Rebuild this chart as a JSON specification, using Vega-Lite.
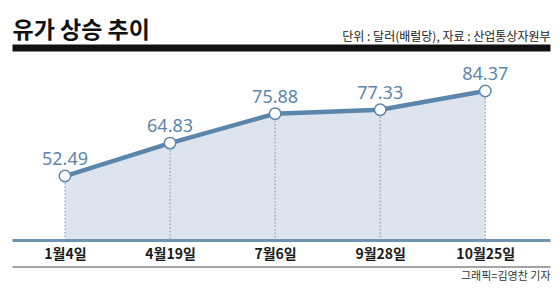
{
  "$schema": "https://vega.github.io/schema/vega-lite/v6.json",
  "width": 538,
  "height": 180,
  "autosize": {"type": "none"},
  "padding": {"left": 12, "top": 60, "right": 10, "bottom": 51},
  "background": "white",
  "config": {"view": {"stroke": null}},
  "data": {
    "values": [
      {"date": "1월4일", "price": 52.49, "label": "52.49"},
      {"date": "4월19일", "price": 64.83, "label": "64.83"},
      {"date": "7월6일", "price": 75.88, "label": "75.88"},
      {"date": "9월28일", "price": 77.33, "label": "77.33"},
      {"date": "10월25일", "price": 84.37, "label": "84.37"}
    ]
  },
  "encoding": {
    "y": {"field": "price", "type": "quantitative", "scale": {"domain": [28.5, 96], "zero": false, "nice": false}, "axis": null}
  },
  "resolve": {"axis": {"x": "independent"}},
  "layer": [
    {
      "mark": {"type": "area", "color": "#dee4ed", "opacity": 1},
      "encoding": {
        "x": {"field": "date", "type": "nominal", "sort": null, "scale": {"type": "point", "padding": 0.56, "align": 0.45},
          "axis": {"orient": "bottom", "title": null, "domainColor": "#6f93b3", "domainWidth": 3, "ticks": false, "labelAngle": 0, "zindex": 1,
            "labelFont": "Noto Sans CJK KR", "labelFontSize": 14, "labelFontWeight": "bold", "labelColor": "#1a1a1a", "labelPadding": 7, "grid": false}},
        "y2": {"datum": 28.5}
      }
    },
    {
      "mark": {"type": "rule", "color": "#8a8a8a", "strokeWidth": 1, "strokeDash": [1.5, 2]},
      "encoding": {
        "x": {"field": "date", "type": "nominal", "sort": null, "scale": {"type": "point", "padding": 0.56, "align": 0.45},
          "axis": {"orient": "bottom", "offset": 26.5, "title": "그래픽=김영찬 기자", "titleAnchor": "end", "titleFont": "Noto Sans CJK KR",
            "titleFontSize": 11, "titleFontWeight": "normal", "titleColor": "#333", "titlePadding": 4, "domainColor": "#858585", "domainWidth": 1.5,
            "ticks": false, "labels": false, "grid": false}},
        "y2": {"datum": 28.5}
      }
    },
    {
      "mark": {"type": "line", "color": "#5b86ac", "strokeWidth": 4.5},
      "encoding": {
        "x": {"field": "date", "type": "nominal", "sort": null, "scale": {"type": "point", "padding": 0.56, "align": 0.45},
          "axis": {"orient": "top", "offset": 12.5, "title": "유가 상승 추이", "titleAnchor": "start", "titleFont": "Noto Sans CJK KR",
            "titleFontSize": 23, "titleFontWeight": "bold", "titleColor": "#111", "titleBaseline": "alphabetic", "titlePadding": 10,
            "domainColor": "#111111", "domainWidth": 7, "ticks": false, "labels": false, "grid": false}}
      }
    },
    {
      "mark": {"type": "point", "filled": true, "fill": "white", "stroke": "#5b86ac", "strokeWidth": 1.5, "size": 130, "opacity": 1, "shape": "circle"},
      "encoding": {
        "x": {"field": "date", "type": "nominal", "sort": null, "scale": {"type": "point", "padding": 0.56, "align": 0.45},
          "axis": {"orient": "top", "offset": 12.5, "title": "단위 : 달러(배럴당), 자료 : 산업통상자원부", "titleAnchor": "end", "titleFont": "Noto Sans CJK KR",
            "titleFontSize": 12, "titleFontWeight": "normal", "titleColor": "#222", "titleBaseline": "alphabetic", "titlePadding": 7,
            "domain": false, "ticks": false, "labels": false, "grid": false}}
      }
    },
    {
      "mark": {"type": "text", "color": "#5b86ac", "font": "Noto Sans", "fontSize": 18, "baseline": "alphabetic", "dy": -11},
      "encoding": {
        "x": {"field": "date", "type": "nominal", "sort": null, "scale": {"type": "point", "padding": 0.56, "align": 0.45}, "axis": null},
        "text": {"field": "label"}
      }
    }
  ]
}
